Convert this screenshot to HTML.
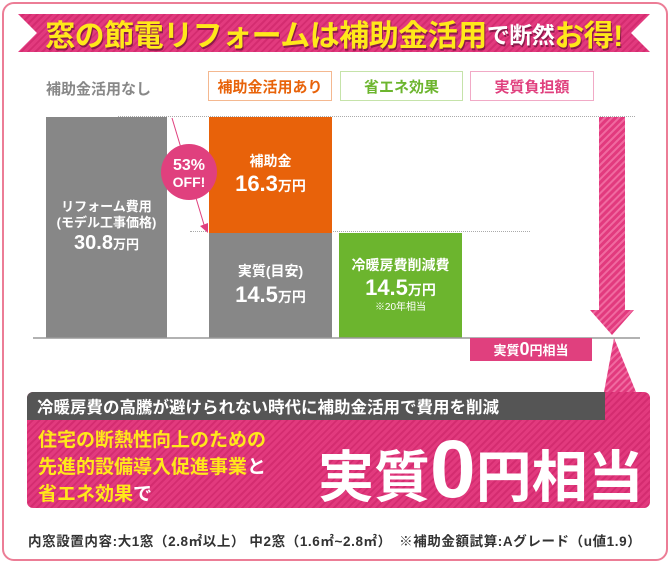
<!DOCTYPE html>
<html><head><meta charset="utf-8"><style>
body{margin:0;width:670px;height:563px;background:#fff;font-family:"Liberation Sans","Noto Sans CJK JP",sans-serif;position:relative;overflow:hidden}
.a{position:absolute}
.stripe{background:repeating-linear-gradient(135deg,#e23a7e 0 3px,#d42c70 3px 5px)}
.c{display:flex;flex-direction:column;align-items:center;justify-content:center;color:#fff;font-weight:bold;text-align:center;line-height:1.25}
.lg{border:1.5px solid;box-sizing:border-box;font-size:15px;font-weight:bold;display:flex;align-items:center;justify-content:center}
</style></head><body>
<div class="a" style="left:2px;top:2px;width:662px;height:555px;border:2px solid #ec7d96;border-radius:12px"></div>
<div class="a stripe" style="left:18px;top:14px;width:632px;height:38px;clip-path:polygon(0 0,100% 0,97% 50%,100% 100%,0 100%,3% 50%)"></div>
<div class="a" style="left:18px;top:14px;width:632px;height:38px;display:flex;align-items:center;justify-content:center;font-size:30px;font-weight:bold;color:#ffe81a;text-shadow:1px 2px 0 #8a1a4a;letter-spacing:-0.5px;white-space:nowrap">窓の節電リフォームは補助金活用<span style="color:#fff;font-size:23px">で断然</span>お得!</div>
<div class="a" style="left:46px;top:78px;font-size:15px;color:#888;font-weight:bold">補助金活用なし</div>
<div class="a lg" style="left:208px;top:71px;width:124px;height:30px;color:#e8630a;border-color:#f4b890">補助金活用あり</div>
<div class="a lg" style="left:340px;top:71px;width:123px;height:30px;color:#6cb52e;border-color:#c5e3a9">省エネ効果</div>
<div class="a lg" style="left:470px;top:71px;width:124px;height:30px;color:#e0407e;border-color:#f1aac6">実質負担額</div>
<div class="a" style="left:118px;top:116px;width:517px;border-top:1px dotted #aaa"></div>
<div class="a" style="left:190px;top:231px;width:340px;border-top:1px dotted #aaa"></div>
<div class="a c" style="left:46px;top:117px;width:121px;height:221px;background:#878787;font-size:13px">リフォーム費用<br>(モデル工事価格)<br><span style="font-size:20px">30.8<span style="font-size:13px">万円</span></span></div>
<div class="a c" style="left:209px;top:117px;width:123px;height:116px;background:#e8620a;font-size:14px">補助金<br><span style="font-size:22px">16.3<span style="font-size:14px">万円</span></span></div>
<div class="a c" style="left:209px;top:233px;width:123px;height:105px;background:#878787;font-size:14px">実質(目安)<br><span style="font-size:22px">14.5<span style="font-size:14px">万円</span></span></div>
<div class="a c" style="left:339px;top:233px;width:123px;height:105px;background:#6cb52e;font-size:14px">冷暖房費削減費<br><span style="font-size:22px">14.5<span style="font-size:14px">万円</span></span><span style="font-size:10px;font-weight:normal">※20年相当</span></div>
<svg class="a" style="left:0;top:0" width="670" height="563">
<line x1="172" y1="118" x2="205" y2="228" stroke="#e0407e" stroke-width="1"/>
<polygon points="200,226 208,233 208,223" fill="#e0407e"/>
<circle cx="189" cy="172" r="28" fill="#e0407e"/>
<text x="189" y="170" fill="#fff" font-size="16" font-weight="bold" text-anchor="middle">53%</text>
<text x="189" y="187" fill="#fff" font-size="14" font-weight="bold" text-anchor="middle">OFF!</text>
<line x1="33" y1="338" x2="640" y2="338" stroke="#999" stroke-width="1.5"/>
<defs><pattern id="p" width="5" height="5" patternUnits="userSpaceOnUse" patternTransform="rotate(45)"><rect width="5" height="5" fill="#e23a7e"/><rect width="2" height="5" fill="#f06aa0"/></pattern></defs>
<polygon points="599,117 625,117 625,310 634,310 612,335 590,310 599,310" fill="url(#p)"/>
<polygon points="614,338 636,392 604,392" fill="url(#p)"/>
</svg>
<div class="a" style="left:470px;top:338px;width:122px;height:23px;background:#e0407e;color:#fff;font-weight:bold;font-size:13px;display:flex;align-items:center;justify-content:center">実質<span style="font-size:18px">0</span>円相当</div>
<div class="a stripe" style="left:27px;top:392px;width:623px;height:116px;border-radius:6px"></div>
<div class="a" style="left:27px;top:392px;width:578px;height:28px;background:#555;border-radius:6px 0 0 0;color:#fff;font-weight:bold;font-size:16.5px;display:flex;align-items:center;padding-left:10px;box-sizing:border-box;white-space:nowrap">冷暖房費の高騰が避けられない時代に補助金活用で費用を削減</div>
<div class="a" style="left:38px;top:427px;font-size:19px;font-weight:bold;color:#ffe81a;line-height:27px">住宅の断熱性向上のための<br>先進的設備導入促進事業<span style="color:#fff">と</span><br>省エネ効果<span style="color:#fff">で</span></div>
<div class="a" style="left:318px;top:434px;color:#fff;font-weight:bold;font-size:56px;line-height:72px;white-space:nowrap">実質<span style="font-size:82px">0</span>円相当</div>
<div class="a" style="left:28px;top:530px;font-size:13.5px;font-weight:bold;color:#333;white-space:nowrap;letter-spacing:0.6px">内窓設置内容:大1窓（2.8㎡以上） 中2窓（1.6㎡~2.8㎡）　※補助金額試算:Aグレード（u値1.9）</div>
</body></html>
